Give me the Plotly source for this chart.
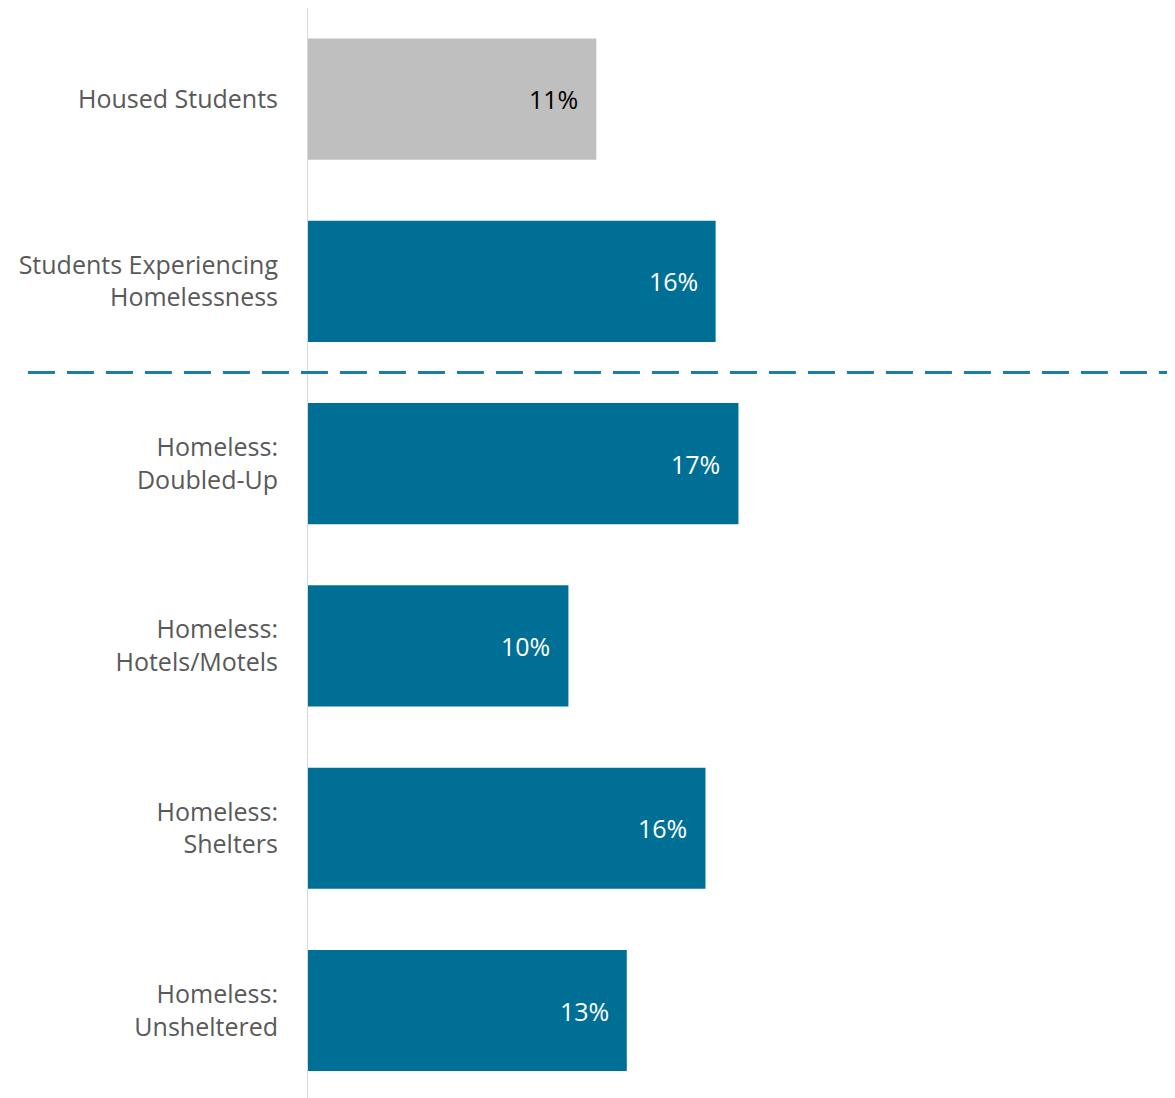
import plotly.graph_objects as go

categories = [
    "Housed Students",
    "Students Experiencing<br>Homelessness",
    "Homeless:<br>Doubled-Up",
    "Homeless:<br>Hotels/Motels",
    "Homeless:<br>Shelters",
    "Homeless:<br>Unsheltered",
]
values = [11.4, 16.1, 17.0, 10.3, 15.7, 12.6]
bar_colors = ["#BFBFBF", "#006F96", "#006F96", "#006F96", "#006F96", "#006F96"]
label_colors = ["#000000", "#FFFFFF", "#FFFFFF", "#FFFFFF", "#FFFFFF", "#FFFFFF"]

FONT = "Open Sans, Lato, sans-serif"

fig = go.Figure(
    go.Bar(
        x=values,
        y=categories,
        orientation="h",
        marker=dict(color=bar_colors, line=dict(width=0)),
        width=0.665,
        hoverinfo="skip",
    )
)

for v, c, tc in zip(values, categories, label_colors):
    fig.add_annotation(
        x=v, y=c, text=f"{v:.0f}%", showarrow=False,
        xanchor="right", yanchor="middle", xshift=-16,
        font=dict(family=FONT, size=25, color=tc),
    )

# vertical axis line
fig.add_shape(type="line", xref="x", yref="paper", x0=0, x1=0, y0=0, y1=1,
              line=dict(color="#D9D9D9", width=2), layer="above")
# dashed separator between groups
fig.add_shape(type="line", xref="paper", yref="y", x0=-0.3215, x1=1.0, y0=1.5, y1=1.5,
              line=dict(color="#1A7FA6", width=3, dash="27px,12px"))

fig.update_layout(
    width=1167, height=1090,
    margin=dict(l=299, r=0, t=0, b=0),
    plot_bgcolor="white", paper_bgcolor="white",
    showlegend=False,
    bargap=0.335,
    xaxis=dict(range=[0, 34.2], visible=False, showgrid=False, zeroline=False),
    yaxis=dict(
        range=[5.48, -0.5], showgrid=False, zeroline=False, showline=False,
        ticks="", ticklabelstandoff=28,
        tickfont=dict(family=FONT, size=25, color="#595959"),
    ),
)

fig.write_html("out.html")
